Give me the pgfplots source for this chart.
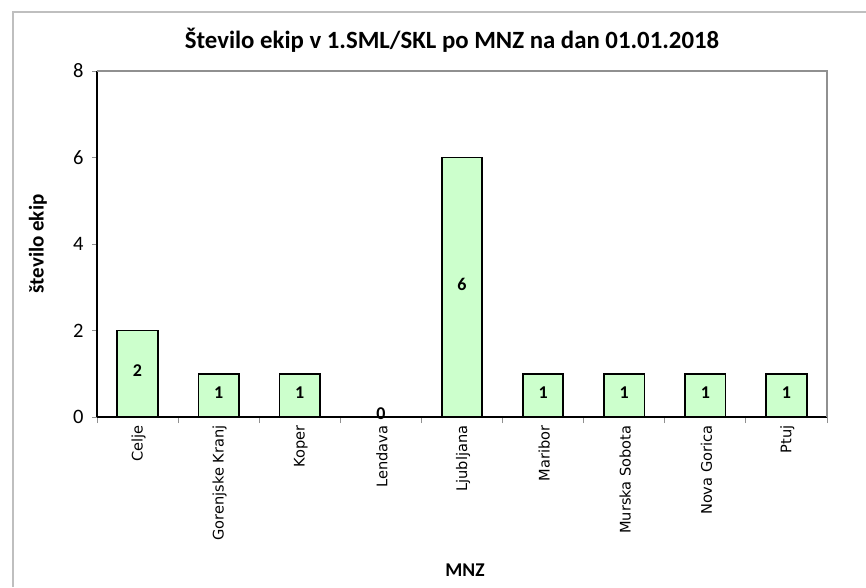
\documentclass[border=0pt]{standalone}
\usepackage{pgfplots}
\pgfplotsset{compat=1.18}
\usepackage{fontspec}
\setmainfont{Carlito}
\newfontfamily\dejavu{DejaVu Sans}
\definecolor{barfill}{HTML}{CCFFCC}
\definecolor{framegray}{HTML}{BFBFBF}
\definecolor{axgray}{HTML}{909090}
\begin{document}
\begin{tikzpicture}[x=1pt,y=1pt]
\useasboundingbox (0,0) rectangle (866,587);
\draw[framegray, line width=1.2pt] (13,0) -- (13,575) -- (866,575);
\begin{axis}[
  at={(97pt,170pt)}, anchor=south west,
  scale only axis, width=730pt, height=346pt,
  xmin=-0.5, xmax=8.5, ymin=0, ymax=8,
  ytick={0,2,4,6,8},
  xtick={0,...,8},
  xticklabels={Celje,Gorenjske Kranj,Koper,Lendava,Ljubljana,Maribor,Murska Sobota,Nova Gorica,Ptuj},
  minor xtick={-0.5,0.5,...,8.5},
  major x tick style={draw=none},
  minor x tick style={axgray, line width=0.8pt},
  y tick style={axgray, line width=0.8pt},
  tick align=outside,
  major tick length=5pt, minor tick length=6pt,
  axis x line*=bottom, axis y line*=left,
  axis line style={black, line width=1.8pt, -},
  xticklabel style={font=\dejavu\fontsize{14.6}{16}\selectfont, rotate=90, anchor=east, yshift=-1pt},
  yticklabel style={font=\fontsize{20.5}{22}\selectfont, xshift=-5pt},
  /pgf/number format/assume math mode=true,
  clip=false,
]
\addplot[ybar, bar width=40.5pt, fill=barfill, draw=black, line width=1.8pt] table[x=x,y=y] {
x y
0 2
1 1
2 1
3 0
4 6
5 1
6 1
7 1
8 1
};
\addplot[draw=none, mark=none, nodes near coords, point meta=explicit,
  every node near coord/.style={anchor=center, yshift=3pt, font=\bfseries\fontsize{18}{20}\selectfont}]
  table[x=x, y expr=\thisrow{y}/2, meta=y] {
x y
0 2
1 1
2 1
3 0
4 6
5 1
6 1
7 1
8 1
};
\draw[axgray, line width=2pt] (rel axis cs:0,1) -- (rel axis cs:1,1) -- (rel axis cs:1,0);
\end{axis}
\node[font=\bfseries\fontsize{24.8}{28}\selectfont] at (452,547) {Število ekip v 1.SML/SKL po MNZ na dan 01.01.2018};
\node[font=\bfseries\fontsize{21}{24}\selectfont, rotate=90] at (38,343) {število ekip};
\node[font=\bfseries\fontsize{19.5}{22}\selectfont] at (465,17) {MNZ};
\end{tikzpicture}
\end{document}
